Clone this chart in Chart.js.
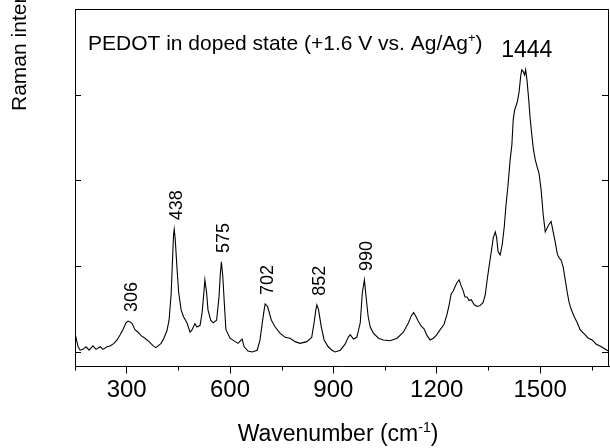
<!DOCTYPE html>
<html>
<head>
<meta charset="utf-8">
<script src="https://cdn.jsdelivr.net/npm/chart.js@4/dist/chart.umd.min.js"></script>
<style>
  html, body { margin: 0; background: #fff; }
  canvas { display: block; }
</style>
</head>
<body>
<canvas id="c" width="610" height="448"></canvas>
<script>
'use strict';
// Raman spectrum of doped PEDOT.
const wavenumber = [
  150, 159, 165, 173, 182, 191, 202, 211, 223, 231, 243, 252, 263, 272, 281, 289, 298, 304, 310, 316,
  324, 333, 342, 353, 365, 377, 385, 391, 400, 408, 417, 423, 429, 433, 436, 438, 441, 446, 451, 458,
  465, 475, 484, 490, 498, 504, 513, 519, 524, 527, 532, 536, 544, 551, 561, 568, 572, 575, 579, 584,
  588, 600, 615, 623, 635, 641, 652, 664, 679, 687, 694, 699, 702, 709, 720, 731, 745, 760, 774, 789,
  803, 823, 837, 844, 849, 852, 857, 865, 873, 885, 896, 905, 920, 934, 943, 949, 958, 968, 978, 984,
  990, 995, 1001, 1007, 1016, 1031, 1045, 1065, 1085, 1103, 1118, 1126, 1133, 1140, 1146, 1155, 1163, 1172, 1181, 1190,
  1198, 1210, 1221, 1230, 1236, 1242, 1248, 1253, 1259, 1265, 1271, 1277, 1282, 1288, 1294, 1300, 1309, 1317, 1326, 1335,
  1341, 1346, 1352, 1358, 1364, 1370, 1374, 1378, 1384, 1390, 1396, 1401, 1407, 1413, 1418, 1422, 1426, 1431, 1434, 1439,
  1444, 1447, 1451, 1455, 1458, 1462, 1467, 1471, 1476, 1480, 1486, 1492, 1497, 1503, 1509, 1515, 1521, 1526, 1532, 1538,
  1544, 1550, 1555, 1561, 1567, 1573, 1579, 1584, 1590, 1599, 1608, 1616, 1628, 1640, 1651, 1663, 1674, 1686, 1698
];
const intensity = [
  0.22, 0.06, 0.02, 0.03, 0.06, 0.02, 0.07, 0.03, 0.06, 0.03, 0.06, 0.07, 0.10, 0.14, 0.20, 0.26, 0.34, 0.36, 0.35, 0.33,
  0.26, 0.23, 0.19, 0.16, 0.12, 0.07, 0.05, 0.07, 0.10, 0.16, 0.25, 0.37, 0.67, 1.07, 1.36, 1.43, 1.31, 0.98, 0.69, 0.49,
  0.41, 0.34, 0.23, 0.26, 0.33, 0.29, 0.31, 0.46, 0.69, 0.84, 0.69, 0.49, 0.37, 0.34, 0.37, 0.64, 0.92, 1.05, 0.88, 0.53,
  0.26, 0.16, 0.12, 0.10, 0.15, 0.06, 0.01, 0.00, 0.02, 0.14, 0.35, 0.49, 0.56, 0.53, 0.37, 0.29, 0.22, 0.17, 0.16, 0.12,
  0.10, 0.12, 0.17, 0.34, 0.49, 0.55, 0.49, 0.29, 0.14, 0.06, 0.02, 0.00, 0.02, 0.09, 0.17, 0.20, 0.15, 0.17, 0.34, 0.69,
  0.84, 0.64, 0.41, 0.29, 0.22, 0.16, 0.14, 0.13, 0.16, 0.23, 0.34, 0.42, 0.46, 0.41, 0.36, 0.30, 0.27, 0.19, 0.14, 0.16,
  0.19, 0.26, 0.32, 0.44, 0.55, 0.68, 0.71, 0.76, 0.81, 0.84, 0.77, 0.71, 0.64, 0.64, 0.60, 0.61, 0.55, 0.53, 0.54, 0.58,
  0.67, 0.83, 1.00, 1.16, 1.33, 1.40, 1.33, 1.17, 1.13, 1.25, 1.46, 1.71, 1.95, 2.24, 2.41, 2.71, 2.82, 2.88, 2.92, 3.03,
  3.23, 3.29, 3.27, 3.23, 3.29, 3.17, 2.94, 2.73, 2.53, 2.38, 2.24, 2.15, 2.08, 1.89, 1.60, 1.40, 1.45, 1.49, 1.52, 1.40,
  1.28, 1.14, 1.10, 1.07, 0.99, 0.84, 0.69, 0.58, 0.50, 0.41, 0.34, 0.26, 0.21, 0.16, 0.14, 0.09, 0.07, 0.04, 0.01
];
const peakLabels = ['306', '438', '575', '702', '852', '990'];
const peakWn = [306, 438, 575, 702, 852, 990];
const mainPeakLabel = '1444';
const mainPeakWn = 1444;
const xMajorTicks = [300, 600, 900, 1200, 1500];
const xMinorTicks = [150, 450, 750, 1050, 1350, 1650];
const yTicks = [0, 1, 2, 3];

const FONT = '"Liberation Sans", Arial, Helvetica, sans-serif';
Chart.defaults.font.family = FONT;
Chart.defaults.color = '#000';

// highest point of the trace near a given wavenumber
function peakValue(wn) {
  let best = -Infinity;
  wavenumber.forEach((w, i) => { if (Math.abs(w - wn) <= 10) best = Math.max(best, intensity[i]); });
  return best;
}

// text runs with superscripts: [text, size, rise]
function drawRuns(ctx, runs, x, y, align) {
  let total = 0;
  runs.forEach(r => { ctx.font = r[1] + 'px ' + FONT; total += ctx.measureText(r[0]).width; });
  let cx = align === 'center' ? x - total / 2 : x;
  ctx.textAlign = 'left';
  ctx.textBaseline = 'alphabetic';
  runs.forEach(r => {
    ctx.font = r[1] + 'px ' + FONT;
    ctx.fillText(r[0], cx, y + r[2]);
    cx += ctx.measureText(r[0]).width;
  });
}

const decorations = {
  id: 'decorations',
  afterDraw(chart) {
    const { ctx, chartArea: a, scales: { x, y } } = chart;
    ctx.save();
    ctx.strokeStyle = '#000';
    ctx.fillStyle = '#000';
    ctx.lineWidth = 1;
    ctx.beginPath();
    // top and right frame
    ctx.moveTo(a.left, a.top + 0.5); ctx.lineTo(a.right, a.top + 0.5);
    ctx.moveTo(a.right - 0.5, a.top); ctx.lineTo(a.right - 0.5, a.bottom);
    // inward y ticks on both sides
    yTicks.forEach(v => {
      const py = Math.round(y.getPixelForValue(v)) + 0.5;
      ctx.moveTo(a.left, py); ctx.lineTo(a.left + 6, py);
      ctx.moveTo(a.right, py); ctx.lineTo(a.right - 7, py);
    });
    // short minor ticks below the x axis
    xMinorTicks.forEach(v => {
      const px = Math.round(x.getPixelForValue(v)) + 0.5;
      ctx.moveTo(px, a.bottom); ctx.lineTo(px, a.bottom + 4);
    });
    ctx.stroke();

    // rotated peak labels
    ctx.font = '18px ' + FONT;
    ctx.textAlign = 'left';
    ctx.textBaseline = 'middle';
    peakLabels.forEach((t, i) => {
      const px = x.getPixelForValue(peakWn[i]) + 3;
      const py = y.getPixelForValue(peakValue(peakWn[i])) - 9;
      ctx.save();
      ctx.translate(px, py);
      ctx.rotate(-Math.PI / 2);
      ctx.fillText(t, 0, 0);
      ctx.restore();
    });

    // main peak label
    ctx.font = '23px ' + FONT;
    ctx.textAlign = 'center';
    ctx.textBaseline = 'alphabetic';
    ctx.fillText(mainPeakLabel, x.getPixelForValue(mainPeakWn) + 6, y.getPixelForValue(peakValue(mainPeakWn)) - 13);

    // sample note
    drawRuns(ctx, [['PEDOT in doped state (+1.6 V vs. Ag/Ag', 21, 0], ['+', 13, -8], [')', 21, 0]], a.left + 13, a.top + 41, 'left');

    // x axis title
    drawRuns(ctx, [['Wavenumber (cm', 23, 0], ['-1', 14, -9], [')', 23, 0]], (a.left + a.right) / 2 - 4, 441, 'center');

    // y axis title (cut off at the top, as in the figure)
    ctx.save();
    ctx.translate(20, 111);
    ctx.rotate(-Math.PI / 2);
    ctx.font = '21px ' + FONT;
    ctx.textAlign = 'left';
    ctx.textBaseline = 'middle';
    ctx.fillText('Raman intensity (a.u.)', 0, 0);
    ctx.restore();
    ctx.restore();
  }
};

new Chart(document.getElementById('c').getContext('2d'), {
  type: 'line',
  data: {
    labels: wavenumber,
    datasets: [{
      data: wavenumber.map((w, i) => ({ x: w, y: intensity[i] })),
      borderColor: '#000',
      borderWidth: 1.1,
      pointRadius: 0,
      tension: 0,
      fill: false,
    }],
  },
  options: {
    responsive: false,
    devicePixelRatio: 1,
    animation: false,
    layout: { padding: { left: 75, right: 1, top: 9, bottom: 41.7 } },
    plugins: { legend: { display: false }, tooltip: { enabled: false } },
    scales: {
      x: {
        type: 'linear', min: 150, max: 1700,
        afterBuildTicks: s => { s.ticks = xMajorTicks.map(v => ({ value: v })); },
        grid: { drawOnChartArea: false, drawTicks: true, tickLength: 7, tickColor: '#000' },
        border: { display: true, color: '#000', width: 1 },
        ticks: { font: { size: 24 }, padding: 2, maxRotation: 0, color: '#000', callback: v => String(v) },
      },
      y: {
        type: 'linear', min: -0.17, max: 4,
        afterBuildTicks: s => { s.ticks = yTicks.map(v => ({ value: v })); },
        grid: { drawOnChartArea: false, drawTicks: false },
        border: { display: true, color: '#000', width: 1 },
        ticks: { display: false },
      },
    },
  },
  plugins: [decorations],
});
</script>
</body>
</html>
